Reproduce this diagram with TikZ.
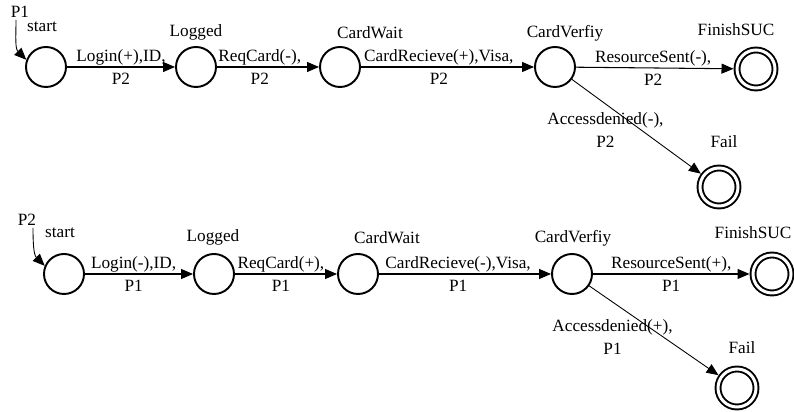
\documentclass[tikz,border=0pt]{standalone}
\usepackage{fontspec}
\setmainfont{Liberation Serif}
\newfontfamily\statefont{Liberation Serif}
\usetikzlibrary{arrows.meta,positioning}

\begin{document}
\begin{tikzpicture}[
        font=\statefont\fontsize{9.8}{13}\selectfont,
        state/.style={circle, draw=black, line width=1.1pt, minimum size=0.8cm, inner sep=0pt},
        final/.style={circle, draw=black, line width=1.1pt, double, double distance=0.06cm, minimum size=0.76cm, inner sep=0pt, outer sep=0.07cm},
        tag/.style={inner sep=1pt},
        msg/.style={align=center, inner sep=1pt},
        trans/.style={-{Triangle[length=0.24cm, width=0.2cm]}, line width=0.6pt},
        init/.style={-{Triangle[length=0.24cm, width=0.2cm]}, line width=0.5pt}
    ]
        \useasboundingbox (0,0) rectangle (15.88,8.24);

        % P1 run
        \node[state] (start1) at (0.92,6.90) {};
        \node[state] (logged1) at (3.92,6.90) {};
        \node[state] (wait1) at (6.80,6.90) {};
        \node[state] (verify1) at (11.10,6.90) {};
        \node[final] (finish1) at (15.12,6.86) {};
        \node[final] (fail1) at (14.38,4.50) {};

        \node[tag] (p1) at (0.40,8.00) {P1};
        \node[tag] (tstart1) at (0.84,7.70) {start};
        \node[tag] (tlogged1) at (3.92,7.60) {Logged};
        \node[tag] (twait1) at (7.40,7.58) {CardWait};
        \node[tag] (tverify1) at (11.30,7.58) {CardVerfiy};
        \node[tag] (tfinish1) at (14.72,7.64) {FinishSUC};
        \node[tag] (tfail1) at (14.48,5.40) {Fail};

        \draw[init] ([xshift=-0.08cm]p1.south) to[out=-90, in=135] (start1.160);
        \draw[trans] (start1) -- node[msg, midway] {Login(+),ID,\\P2} (logged1);
        \draw[trans] (logged1) -- node[msg, pos=0.42] {ReqCard(-),\\P2} (wait1);
        \draw[trans] (wait1) -- node[msg, pos=0.45] {CardRecieve(+),Visa,\\P2} (verify1);
        \draw[trans] (verify1) -- node[msg, pos=0.49] {ResourceSent(-),\\P2} (finish1);
        \draw[trans, line width=0.5pt] (verify1) -- node[msg, pos=0.26, yshift=-0.52cm] {Accessdenied(-),\\P2} (fail1);

        % P2 run
        \node[state] (start2) at (1.28,2.76) {};
        \node[state] (logged2) at (4.28,2.76) {};
        \node[state] (wait2) at (7.16,2.76) {};
        \node[state] (verify2) at (11.44,2.76) {};
        \node[final] (finish2) at (15.44,2.76) {};
        \node[final] (fail2) at (14.74,0.48) {};

        \node[tag] (p2) at (0.54,3.84) {P2};
        \node[tag] (tstart2) at (1.20,3.58) {start};
        \node[tag] (tlogged2) at (4.26,3.50) {Logged};
        \node[tag] (twait2) at (7.74,3.48) {CardWait};
        \node[tag] (tverify2) at (11.46,3.48) {CardVerfiy};
        \node[tag] (tfinish2) at (15.06,3.58) {FinishSUC};
        \node[tag] (tfail2) at (14.84,1.28) {Fail};

        \draw[init] ([xshift=0.12cm]p2.south) to[out=-90, in=135] (start2.157);
        \draw[trans] (start2) -- node[msg, pos=0.45] {Login(-),ID,\\P1} (logged2);
        \draw[trans] (logged2) -- node[msg, pos=0.45] {ReqCard(+),\\P1} (wait2);
        \draw[trans] (wait2) -- node[msg, pos=0.46] {CardRecieve(-),Visa,\\P1} (verify2);
        \draw[trans] (verify2) -- node[msg, midway] {ResourceSent(+),\\P1} (finish2);
        \draw[trans, line width=0.5pt] (verify2) -- node[msg, pos=0.18, yshift=-0.7cm] {Accessdenied(+),\\P1} (fail2);
    \end{tikzpicture}
\end{document}
